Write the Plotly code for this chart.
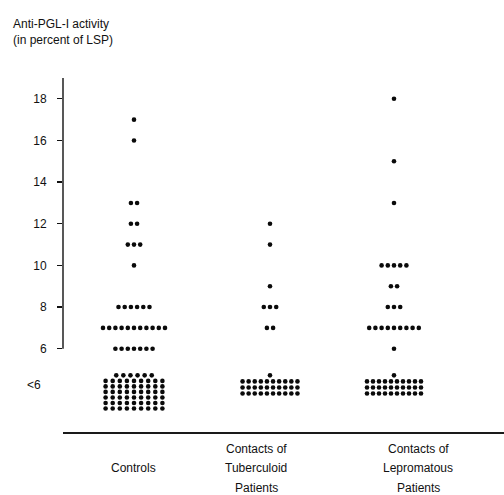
import plotly.graph_objects as go

# ---------------- data ----------------
GROUPS = ["Controls", "Contacts of Tuberculoid Patients", "Contacts of Lepromatous Patients"]
GROUP_LABEL_LINES = [
    ["Controls"],
    ["Contacts of", "Tuberculoid", "Patients"],
    ["Contacts of", "Lepromatous", "Patients"],
]
LEVELS = [6, 7, 8, 9, 10, 11, 12, 13, 14, 15, 16, 17, 18]
CONTROLS_COUNTS = [7, 11, 6, 0, 1, 3, 2, 2, 0, 0, 1, 1, 0]
TUBERCULOID_COUNTS = [0, 2, 3, 1, 0, 1, 1, 0, 0, 0, 0, 0, 0]
LEPROMATOUS_COUNTS = [1, 9, 3, 2, 5, 0, 0, 1, 0, 1, 0, 0, 1]
BELOW_6_COUNTS = [60, 31, 31]
Y_TICK_VALUES = [6, 8, 10, 12, 14, 16, 18]
Y_TICK_TEXT = ["6", "8", "10", "12", "14", "16", "18"]
BELOW_LABEL = "<6"
Y_TITLE_LINES = ["Anti-PGL-I activity", "(in percent of LSP)"]

COUNTS = [CONTROLS_COUNTS, TUBERCULOID_COUNTS, LEPROMATOUS_COUNTS]

# ---------------- layout constants ----------------
W, H = 504, 495
PLOT_LEFT, PLOT_RIGHT, PLOT_TOP, PLOT_BOTTOM = 63, 504, 78, 432  # in window pixels
ML, MT, MR, MB = PLOT_LEFT, PLOT_TOP, W - PLOT_RIGHT, H - PLOT_BOTTOM
PLOT_W = PLOT_RIGHT - PLOT_LEFT
PLOT_H = PLOT_BOTTOM - PLOT_TOP
X_RANGE = [PLOT_LEFT, PLOT_RIGHT]
Y_RANGE = [2.0, 19.0]
GROUP_CENTER = [134, 270, 394]
LABEL_CENTER = [133, 256, 418]
ROW_DX = 6.2
BLOCK_DX = [7.1, 6.1, 6.0]
BLOCK_COLS = [9, 10, 10]
BLOCK_DY = [0.265, 0.29, 0.29]
BLOCK_TOP = 4.72
BELOW_LABEL_Y = 4.27
FONT = "Liberation Sans, Arial, sans-serif"


def py(pix):
    return (PLOT_BOTTOM - pix) / PLOT_H


def px(pix):
    return (pix - PLOT_LEFT) / PLOT_W


fig = go.Figure()

for g in range(len(GROUPS)):
    xs, ys = [], []
    c = GROUP_CENTER[g]
    for lvl, n in zip(LEVELS, COUNTS[g]):
        for i in range(n):
            xs.append(c + (i - (n - 1) / 2) * ROW_DX)
            ys.append(lvl)
    n = BELOW_6_COUNTS[g]
    cols = BLOCK_COLS[g]
    full = n // cols
    rem = n - full * cols
    rows = ([rem] if rem else []) + [cols] * full
    for r, k in enumerate(rows):
        yv = BLOCK_TOP - r * BLOCK_DY[g]
        for i in range(k):
            xs.append(c + (i - (k - 1) / 2) * BLOCK_DX[g])
            ys.append(yv)
    fig.add_trace(go.Scatter(
        x=xs, y=ys, mode="markers", name=GROUPS[g],
        marker=dict(size=4.6, color="#0a0a0a", line=dict(width=0)),
        showlegend=False, hoverinfo="skip", cliponaxis=False,
    ))

annotations = [
    dict(text="<br>".join(Y_TITLE_LINES), xref="paper", yref="paper",
         x=px(11), y=py(32), xanchor="left", yanchor="middle", showarrow=False,
         align="left", font=dict(family=FONT, size=12, color="#111")),
    dict(text=BELOW_LABEL, xref="paper", yref="y", x=px(43), y=BELOW_LABEL_Y,
         xanchor="right", yanchor="middle", showarrow=False,
         font=dict(family=FONT, size=12, color="#111")),
]
for g, lines in enumerate(GROUP_LABEL_LINES):
    ypix = [468] if len(lines) == 1 else [449, 468, 488]
    for line, yp in zip(lines, ypix):
        annotations.append(dict(
            text=line, xref="x", yref="paper", x=LABEL_CENTER[g], y=py(yp),
            xanchor="center", yanchor="middle", showarrow=False,
            font=dict(family=FONT, size=12, color="#111"),
        ))

fig.update_layout(
    width=W, height=H,
    margin=dict(l=ML, r=MR, t=MT, b=MB, pad=0),
    paper_bgcolor="white", plot_bgcolor="white",
    xaxis=dict(range=X_RANGE, showgrid=False, zeroline=False, showticklabels=False,
               ticks="", showline=True, linecolor="#1a1a1a", linewidth=1.6, fixedrange=True),
    yaxis=dict(range=Y_RANGE, showgrid=False, zeroline=False, showline=False,
               tickvals=Y_TICK_VALUES, ticktext=Y_TICK_TEXT, ticks="outside",
               ticklen=5, tickwidth=1.3, tickcolor="#111", ticklabelstandoff=8,
               tickfont=dict(family=FONT, size=12, color="#111"), fixedrange=True),
    annotations=annotations,
    shapes=[dict(type="line", xref="paper", yref="y", x0=0, x1=0, y0=6, y1=Y_RANGE[1],
                 line=dict(color="#111", width=1.4))],
)

fig.write_html(
    "out.html",
    config={"displayModeBar": False, "staticPlot": True},
    post_script="document.body.style.margin='0';document.body.style.overflow='hidden';",
)
